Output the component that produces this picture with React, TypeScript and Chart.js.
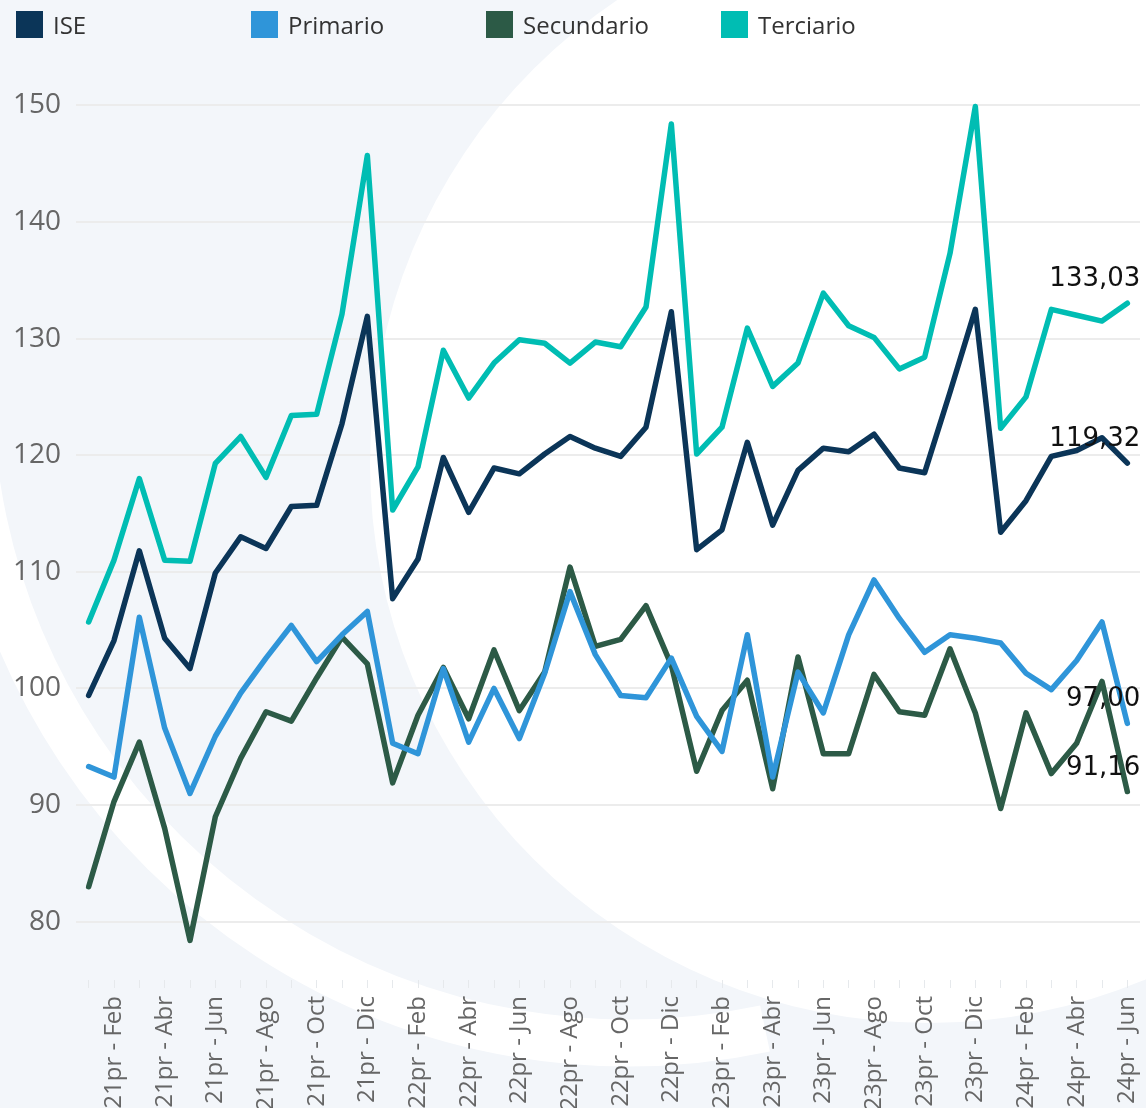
import React, { useEffect, useRef } from 'react';
import { Chart, registerables } from 'chart.js';

Chart.register(...registerables);

const YEARS = ['21', '22', '23', '24'];
const MONTHS = ['Ene', 'Feb', 'Mar', 'Abr', 'May', 'Jun', 'Jul', 'Ago', 'Sep', 'Oct', 'Nov', 'Dic'];
const N_POINTS = 42;
const CATEGORIES: string[] = [];
for (const y of YEARS) for (const m of MONTHS) CATEGORIES.push(`${y}pr - ${m}`);
CATEGORIES.length = N_POINTS;

const SERIES_NAMES = ['ISE', 'Primario', 'Secundario', 'Terciario'];
const SERIES_COLORS = ['#0b3558', '#2f95d9', '#2c5a46', '#00bdb3'];

const ISE = [
  99.4, 104.1, 111.8, 104.3, 101.7, 109.9, 113.0, 112.0, 115.6, 115.7, 122.7, 131.9,
  107.7, 111.1, 119.8, 115.1, 118.9, 118.4, 120.1, 121.6, 120.6, 119.9, 122.4, 132.3,
  111.9, 113.6, 121.1, 114.0, 118.7, 120.6, 120.3, 121.8, 118.9, 118.5, 125.4, 132.5,
  113.4, 116.1, 119.9, 120.4, 121.5, 119.32,
];
const PRIMARIO = [
  93.3, 92.4, 106.1, 96.6, 91.0, 95.9, 99.6, 102.6, 105.4, 102.3, 104.6, 106.6,
  95.3, 94.4, 101.7, 95.4, 100.0, 95.7, 101.3, 108.3, 102.9, 99.4, 99.2, 102.6,
  97.6, 94.6, 104.6, 92.4, 101.4, 97.9, 104.6, 109.3, 106.0, 103.1, 104.6, 104.3,
  103.9, 101.3, 99.9, 102.4, 105.7, 97.0,
];
const SECUNDARIO = [
  83.0, 90.3, 95.4, 88.0, 78.4, 89.0, 94.0, 98.0, 97.2, 100.9, 104.4, 102.1,
  91.9, 97.7, 101.8, 97.4, 103.3, 98.1, 101.4, 110.4, 103.6, 104.2, 107.1, 102.0,
  92.9, 98.1, 100.7, 91.4, 102.7, 94.4, 94.4, 101.2, 98.0, 97.7, 103.4, 97.9,
  89.7, 97.9, 92.7, 95.3, 100.6, 91.16,
];
const TERCIARIO = [
  105.7, 111.0, 118.0, 111.0, 110.9, 119.3, 121.6, 118.1, 123.4, 123.5, 132.1, 145.7,
  115.3, 119.0, 129.0, 124.9, 127.9, 129.9, 129.6, 127.9, 129.7, 129.3, 132.7, 148.4,
  120.1, 122.4, 130.9, 125.9, 127.9, 133.9, 131.1, 130.1, 127.4, 128.4, 137.3, 149.9,
  122.3, 125.0, 132.5, 132.0, 131.5, 133.03,
];
const SERIES_VALUES = [ISE, PRIMARIO, SECUNDARIO, TERCIARIO];

const Y_MIN = 75;
const Y_MAX = 155;
const Y_TICKS = [80, 90, 100, 110, 120, 130, 140, 150];

const W = 1146;
const H = 1108;

const backgroundPlugin = {
  id: 'decoBackground',
  beforeDraw(chart: any) {
    const { ctx, width, height } = chart;
    ctx.save();
    ctx.fillStyle = '#f3f6fa';
    ctx.fillRect(0, 0, width, height);
    ctx.fillStyle = '#ffffff';
    ctx.beginPath();
    ctx.arc(929, 464, 559, 0, Math.PI * 2);
    ctx.fill();
    ctx.strokeStyle = '#ffffff';
    ctx.lineWidth = 47;
    ctx.beginPath();
    ctx.arc(628, 384, 659, (78 * Math.PI) / 180, (172 * Math.PI) / 180);
    ctx.stroke();
    ctx.restore();
  },
};

const endLabelPlugin = {
  id: 'endLabels',
  afterDatasetsDraw(chart: any) {
    const { ctx } = chart;
    ctx.save();
    ctx.font = '26px "DejaVu Sans"';
    ctx.fillStyle = '#111111';
    ctx.textAlign = 'right';
    ctx.textBaseline = 'alphabetic';
    chart.data.datasets.forEach((ds: any, i: number) => {
      const meta = chart.getDatasetMeta(i);
      const last = meta.data[meta.data.length - 1];
      if (!last) return;
      const v = ds.data[ds.data.length - 1] as number;
      const txt = v.toFixed(2).replace('.', ',');
      ctx.fillText(txt, last.x + 13, last.y - 17);
    });
    ctx.restore();
  },
};

export default function App() {
  const canvasRef = useRef<HTMLCanvasElement | null>(null);

  useEffect(() => {
    const prevMargin = document.body.style.margin;
    document.body.style.margin = '0';
    const canvas = canvasRef.current;
    if (!canvas) return;
    const chart = new Chart(canvas, {
      type: 'line',
      data: {
        labels: CATEGORIES,
        datasets: SERIES_NAMES.map((name, i) => ({
          label: name,
          data: SERIES_VALUES[i],
          borderColor: SERIES_COLORS[i],
          backgroundColor: SERIES_COLORS[i],
          borderWidth: 5.5,
          pointRadius: 0,
          pointHoverRadius: 0,
          tension: 0,
          fill: false,
          borderJoinStyle: 'round' as const,
          borderCapStyle: 'round' as const,
        })),
      },
      options: {
        responsive: false,
        animation: false,
        devicePixelRatio: 1,
        layout: { padding: { top: 47, right: 6, left: 0, bottom: 0 } },
        plugins: {
          legend: { display: false },
          tooltip: { enabled: false },
        },
        scales: {
          x: {
            type: 'category',
            offset: true,
            grid: {
              display: true,
              drawOnChartArea: false,
              drawTicks: true,
              tickLength: 8,
              color: '#e6e9ec',
              lineWidth: 1,
            },
            border: { display: false },
            ticks: {
              autoSkip: false,
              minRotation: 90,
              maxRotation: 90,
              padding: 8,
              color: '#666666',
              font: { family: '"Open Sans"', size: 24 },
              callback: (_v: any, idx: number) => (idx % 2 === 1 ? CATEGORIES[idx] : ''),
            },
            afterFit: (scale: any) => {
              scale.height = H - 980;
              scale.paddingLeft = 0;
              scale.paddingRight = 0;
            },
          },
          y: {
            type: 'linear',
            min: Y_MIN,
            max: Y_MAX,
            grid: {
              color: '#ececec',
              lineWidth: 2,
              drawTicks: false,
            },
            border: { display: false },
            ticks: {
              padding: 15,
              color: '#666666',
              font: { family: '"Open Sans"', size: 28 },
            },
            afterBuildTicks: (scale: any) => {
              scale.ticks = Y_TICKS.map((v) => ({ value: v }));
            },
            afterFit: (scale: any) => {
              scale.width = 76;
              scale.paddingTop = 0;
              scale.paddingBottom = 0;
            },
          },
        },
      },
      plugins: [backgroundPlugin, endLabelPlugin],
    } as any);
    return () => {
      chart.destroy();
      document.body.style.margin = prevMargin;
    };
  }, []);

  return (
    <div style={{ position: 'relative', width: W, height: H, overflow: 'hidden' }}>
      <canvas ref={canvasRef} width={W} height={H} style={{ display: 'block', position: 'absolute', left: 0, top: 0 }} />
      <div style={{ position: 'absolute', left: 0, top: 0, width: W, height: 50, pointerEvents: 'none' }}>
        {SERIES_NAMES.map((name, i) => (
          <div
            key={name}
            style={{
              position: 'absolute',
              left: 16 + i * 235,
              top: 11,
              display: 'flex',
              alignItems: 'center',
              height: 27,
              whiteSpace: 'nowrap',
            }}
          >
            <span style={{ display: 'inline-block', width: 27, height: 27, background: SERIES_COLORS[i] }} />
            <span
              style={{
                marginLeft: 10,
                fontFamily: '"Open Sans", sans-serif',
                fontSize: 24,
                lineHeight: '27px',
                color: '#333333',
              }}
            >
              {name}
            </span>
          </div>
        ))}
      </div>
    </div>
  );
}
